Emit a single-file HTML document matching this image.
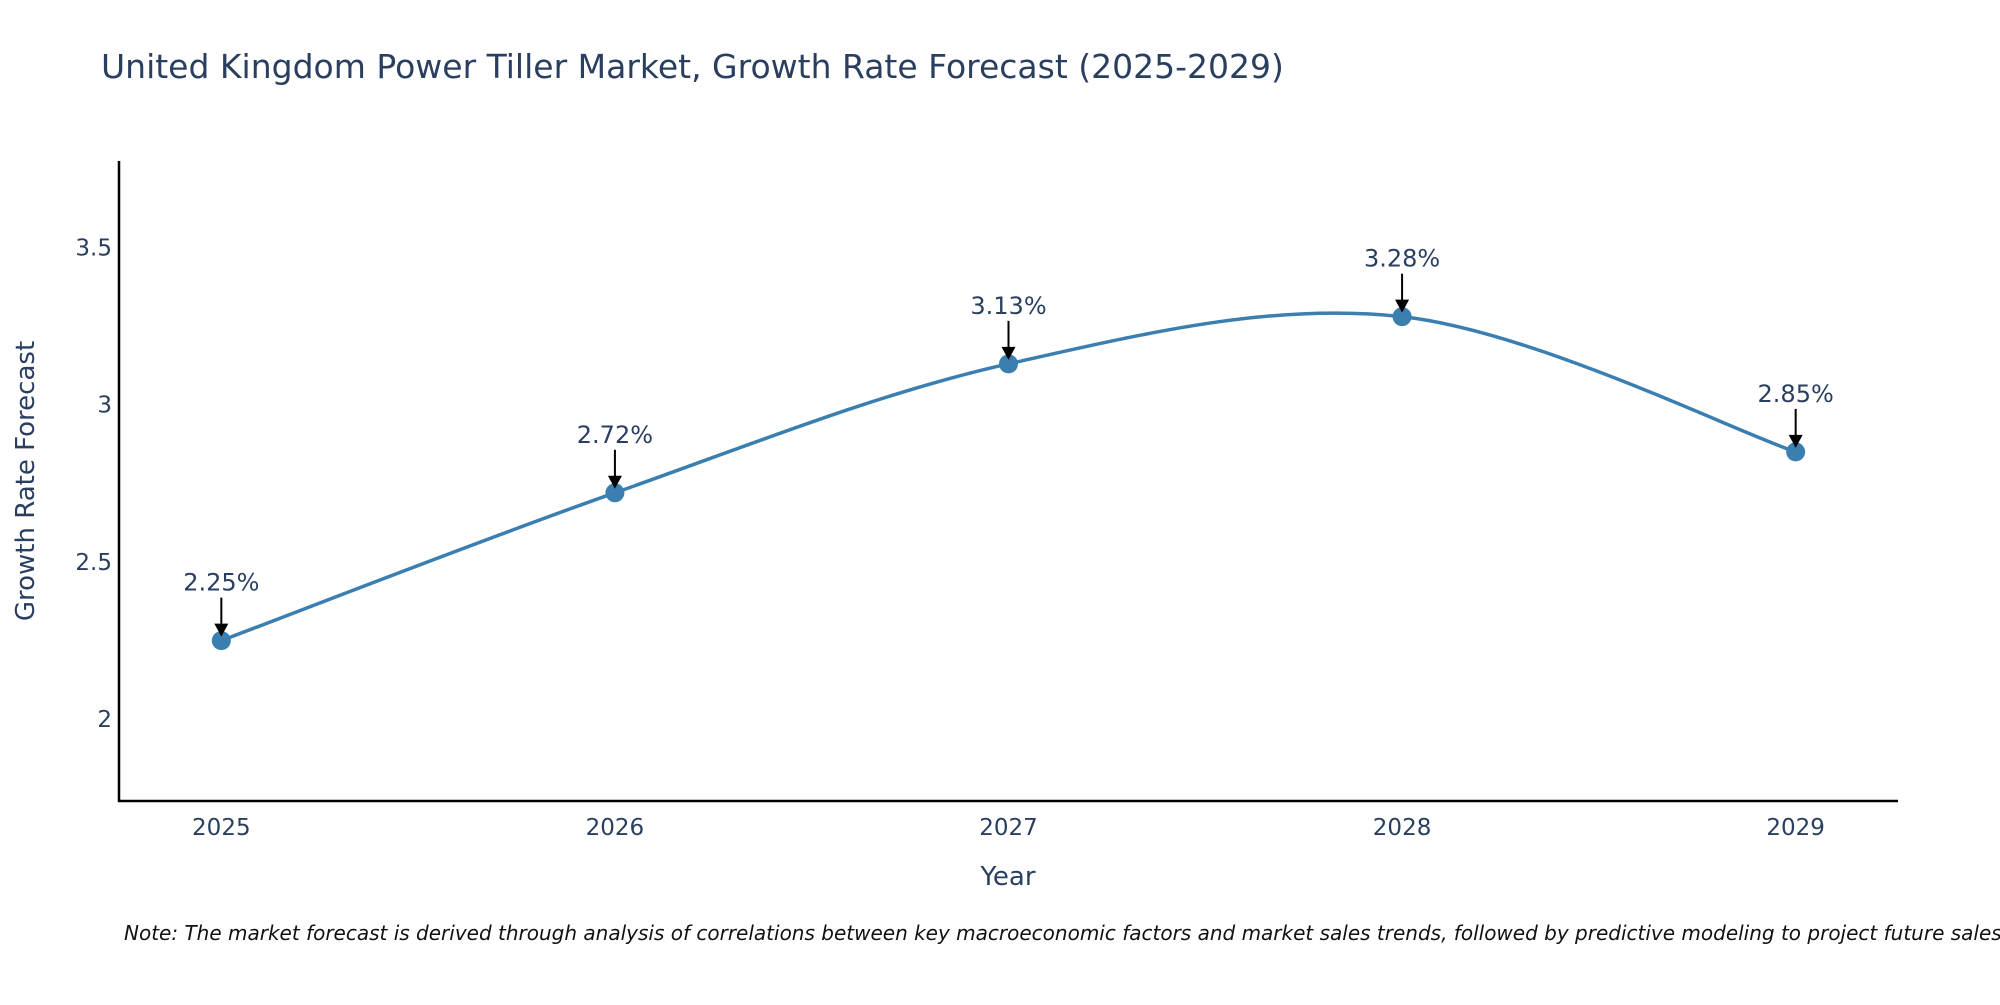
<!DOCTYPE html>
<html><head><meta charset="utf-8"><style>
body{margin:0;background:#fff;overflow:hidden;}
svg text{font-family:"DejaVu Sans","Liberation Sans",sans-serif;}
</style></head><body>
<svg id="chart" width="2000" height="1000" xmlns="http://www.w3.org/2000/svg">
<text x="101" y="78" font-size="33" fill="#2a3f5f">United Kingdom Power Tiller Market, Growth Rate Forecast (2025-2029)</text>
<line x1="119" y1="161" x2="119" y2="802" stroke="#000" stroke-width="2.5"/>
<line x1="118" y1="801" x2="1898" y2="801" stroke="#000" stroke-width="2.5"/>
<g id="ticks"></g>
<g id="series"></g>
<text x="1008" y="885" font-size="26" fill="#2a3f5f" text-anchor="middle">Year</text>
<text transform="translate(34,481) rotate(-90)" font-size="26" fill="#2a3f5f" text-anchor="middle">Growth Rate Forecast</text>
<text x="124" y="940" font-size="20" font-style="italic" fill="#111">Note: The market forecast is derived through analysis of correlations between key macroeconomic factors and market sales trends, followed by predictive modeling to project future sales.</text>
</svg>
<script>
const categories=[2025,2026,2027,2028,2029];
const values=[2.25,2.72,3.13,3.28,2.85];
const yTicks=[2,2.5,3,3.5];
const labels=["2.25%","2.72%","3.13%","3.28%","2.85%"];
const NS="http://www.w3.org/2000/svg";
const X0=119,X1=1898,Y0=801,Y1=161;
const xMin=2024.74,xMax=2029.26,yMin=1.74,yMax=3.775;
function xs(v){return X0+(v-xMin)/(xMax-xMin)*(X1-X0);}
function ys(v){return Y0-(v-yMin)/(yMax-yMin)*(Y0-Y1);}
function mk(t,a,p){const e=document.createElementNS(NS,t);for(const k in a)e.setAttribute(k,a[k]);(p||document.getElementById('series')).appendChild(e);return e;}
const tg=document.getElementById('ticks');
yTicks.forEach(t=>{const e=mk('text',{x:X0-7,y:ys(t)+8,'font-size':23,fill:'#2a3f5f','text-anchor':'end'},tg);e.textContent=String(t);

});
categories.forEach(c=>{const e=mk('text',{x:xs(c),y:Y0+34,'font-size':23,fill:'#2a3f5f','text-anchor':'middle'},tg);e.textContent=String(c);

});
const pts=categories.map((c,i)=>[xs(c),ys(values[i])]);
let d="M"+pts[0][0]+","+pts[0][1];
const s=0.5/1.5;
for(let i=0;i<pts.length-1;i++){
 const p0=pts[Math.max(0,i-1)],p1=pts[i],p2=pts[i+1],p3=pts[Math.min(pts.length-1,i+2)];
 const c1=[p1[0]+(p2[0]-p0[0])*s/2,p1[1]+(i==0?(p2[1]-p1[1])*s/2:(p2[1]-p0[1])*s/2)];
 const c2=[p2[0]-(p3[0]-p1[0])*s/2,p2[1]-(i==pts.length-2?(p2[1]-p1[1]):(p3[1]-p1[1]))*s/2];
 d+=" C"+c1[0]+","+c1[1]+" "+c2[0]+","+c2[1]+" "+p2[0]+","+p2[1];
}
const line=mk('path',{d:d,fill:'none',stroke:'#3a7fb0','stroke-width':3.5});


pts.forEach((p,i)=>{
 const c=mk('circle',{cx:p[0],cy:p[1],r:9.5,fill:'#3a7fb0'});
 
 
 const l=mk('line',{x1:p[0],y1:p[1]-43,x2:p[0],y2:p[1]-14,stroke:'#000','stroke-width':2});
 
 
 const a=mk('path',{d:`M${p[0]-7},${p[1]-17} L${p[0]+7},${p[1]-17} L${p[0]},${p[1]-4} Z`,fill:'#000'});
 
 
 const t=mk('text',{x:p[0],y:p[1]-50,'font-size':24,fill:'#2a3f5f','text-anchor':'middle'});
 t.textContent=labels[i];
 
 
});
</script>
</body></html>
